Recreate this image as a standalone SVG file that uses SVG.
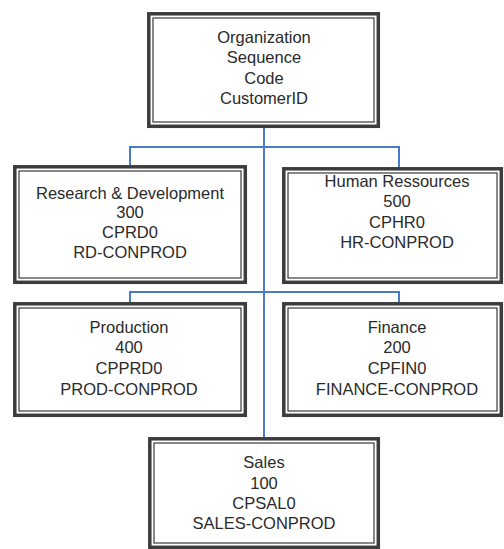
<svg xmlns="http://www.w3.org/2000/svg" width="504" height="549" viewBox="0 0 504 549">
<style>
.o{fill:#fff;stroke:#3c3c3c;stroke-width:3.5}
.i{fill:none;stroke:#3a3a3a;stroke-width:1.2}
.t{font-family:"Liberation Sans",Arial,sans-serif;font-size:16.5px;fill:#2a2a2a;text-anchor:middle}
.c{fill:none;stroke:#4a7acb;stroke-width:2}
</style>
<rect width="504" height="549" fill="#fff"/>
<g id="connectors">
<path class="c" d="M264,128V437"/>
<path class="c" d="M130,165V147H399V167"/>
<path class="c" d="M130,302V292H399V302"/>
</g>
<g id="root">
<rect class="o" x="148.8" y="13.8" width="229.5" height="112.5"/>
<rect class="i" x="153" y="18" width="221" height="104"/>
<text class="t" x="264" y="43">Organization</text>
<text class="t" x="264" y="63">Sequence</text>
<text class="t" x="264" y="84">Code</text>
<text class="t" x="264" y="104">CustomerID</text>
</g>
<g id="rd">
<rect class="o" x="14.8" y="166.8" width="230.5" height="115.5"/>
<rect class="i" x="19" y="171" width="222" height="107"/>
<text class="t" x="130" y="199">Research &amp; Development</text>
<text class="t" x="130" y="218">300</text>
<text class="t" x="130" y="238">CPRD0</text>
<text class="t" x="130" y="258">RD-CONPROD</text>
</g>
<g id="hr">
<rect class="o" x="283.8" y="168.8" width="217.5" height="113.5"/>
<rect class="i" x="288" y="173" width="209" height="105"/>
<text class="t" x="397" y="187">Human Ressources</text>
<text class="t" x="397" y="207">500</text>
<text class="t" x="397" y="228">CPHR0</text>
<text class="t" x="397" y="248">HR-CONPROD</text>
</g>
<g id="prod">
<rect class="o" x="14.8" y="303.8" width="230.5" height="111.5"/>
<rect class="i" x="19" y="308" width="222" height="103"/>
<text class="t" x="129" y="333">Production</text>
<text class="t" x="129" y="353">400</text>
<text class="t" x="129" y="374">CPPRD0</text>
<text class="t" x="129" y="395">PROD-CONPROD</text>
</g>
<g id="finance">
<rect class="o" x="283.8" y="303.8" width="217.5" height="111.5"/>
<rect class="i" x="288" y="308" width="209" height="103"/>
<text class="t" x="397" y="333">Finance</text>
<text class="t" x="397" y="353">200</text>
<text class="t" x="397" y="374">CPFIN0</text>
<text class="t" x="397" y="395">FINANCE-CONPROD</text>
</g>
<g id="sales">
<rect class="o" x="149.8" y="438.8" width="228.5" height="108.5"/>
<rect class="i" x="154" y="443" width="220" height="100"/>
<text class="t" x="264" y="468">Sales</text>
<text class="t" x="264" y="489">100</text>
<text class="t" x="264" y="509">CPSAL0</text>
<text class="t" x="264" y="529">SALES-CONPROD</text>
</g>
</svg>
